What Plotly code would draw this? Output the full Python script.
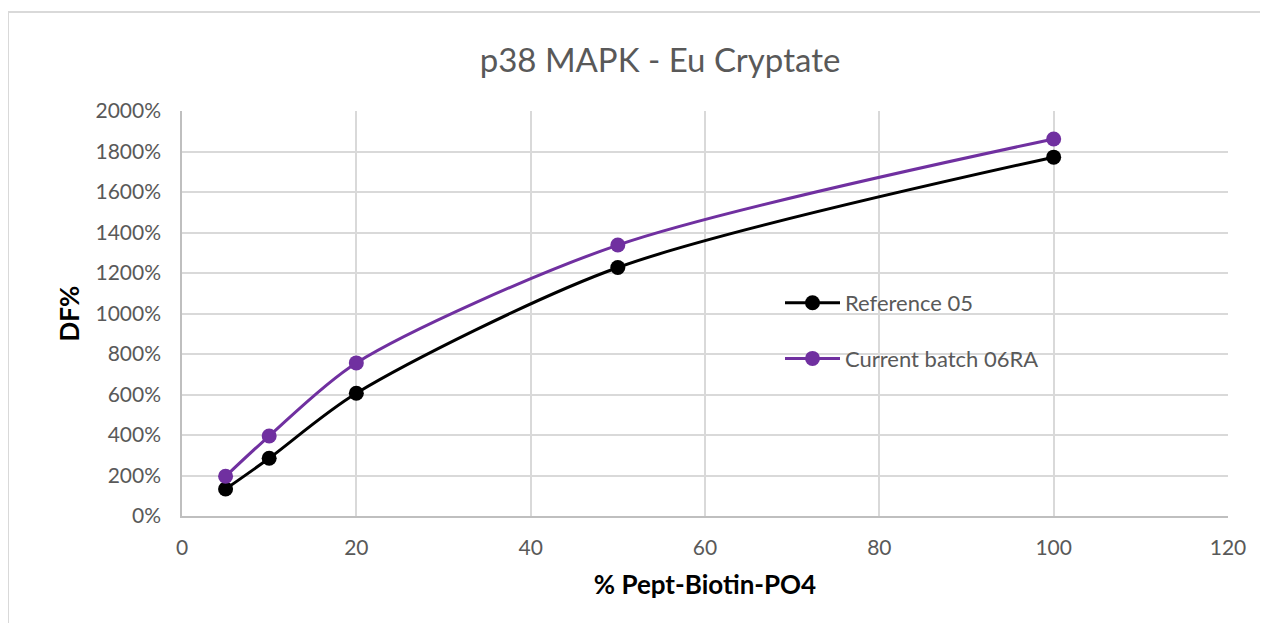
import plotly.graph_objects as go

x_vals = [5, 10, 20, 50, 100]
reference_05 = [133, 285, 606, 1227, 1772]
current_06RA = [196, 395, 756, 1338, 1862]
series_names = ["Reference 05", "Current batch 06RA"]
title_text = "p38 MAPK - Eu Cryptate"
x_title = "% Pept-Biotin-PO4"
y_title = "DF%"

FONT = "Lato"
OFF = 8  # page body margin
L, R, T, B = 182 - OFF, 40, 111 - OFF, 107
W, H = 1268 - OFF, 623 - OFF
pw, ph = W - L - R, H - T - B

fig = go.Figure()
fig.add_trace(go.Scatter(
    x=x_vals, y=reference_05, name=series_names[0], mode="lines+markers",
    line=dict(color="#000000", width=3, shape="spline", smoothing=0.8),
    marker=dict(size=15, color="#000000"), legendgroup="a"))
fig.add_trace(go.Scatter(
    x=x_vals, y=current_06RA, name=series_names[1], mode="lines+markers",
    line=dict(color="#7030A0", width=3, shape="spline", smoothing=0.8),
    marker=dict(size=15, color="#7030A0"), legendgroup="b"))

fig.update_layout(
    width=W, height=H,
    margin=dict(l=L, r=R, t=T, b=B),
    paper_bgcolor="white", plot_bgcolor="white",
    title=dict(text=title_text, x=(660 - OFF) / W, xanchor="center", y=1 - (60 - OFF) / H, yanchor="middle",
               font=dict(family=FONT, size=33, color="#595959")),
    font=dict(family=FONT),
    legend=dict(x=(780 - OFF - L) / pw, y=1 - (282 - OFF - T) / ph, xanchor="left", yanchor="top",
                bgcolor="rgba(0,0,0,0)", font=dict(family=FONT, size=22, color="#595959"),
                tracegroupgap=24, itemwidth=55, traceorder="grouped"),
    xaxis=dict(range=[0, 120], dtick=20, tick0=0, showgrid=True, gridcolor="#d9d9d9", gridwidth=1.5,
               showline=True, linecolor="#bfbfbf", linewidth=1.5, zeroline=False,
               ticks="", tickfont=dict(family=FONT, size=21, color="#595959"),
               ticklabelstandoff=12,
               title=dict(text="<b>" + x_title + "</b>", font=dict(family=FONT, size=26, color="#000000"), standoff=18)),
    yaxis=dict(range=[0, 2000], dtick=200, tick0=0, ticksuffix="%", showgrid=True, gridcolor="#d9d9d9", gridwidth=1.5,
               showline=True, linecolor="#bfbfbf", linewidth=1.5, zeroline=False,
               ticks="", tickfont=dict(family=FONT, size=21, color="#595959"),
               ticklabelstandoff=15,
               title=dict(text="<b>" + y_title + "</b>", font=dict(family=FONT, size=26, color="#000000"), standoff=8)),
)

fig.add_shape(type="rect", xref="paper", yref="paper",
              x0=(0 - L) / pw, x1=(W + 10 - L) / pw,
              y0=-(B + 10) / ph, y1=1 + (T - 4) / ph,
              line=dict(color="#d9d9d9", width=2), fillcolor="rgba(0,0,0,0)", layer="below")

fig.write_html("out.html")
